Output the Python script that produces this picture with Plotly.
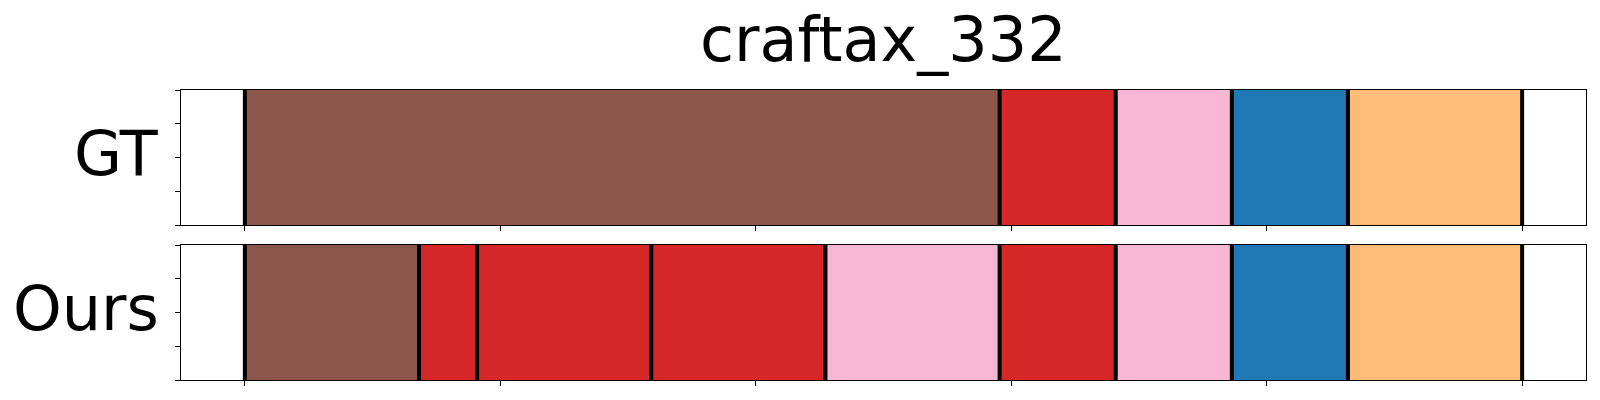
import plotly.graph_objects as go

# ---- data ----
title_text = "craftax_332"
row_labels = ["GT", "Ours"]
total_steps = 22
gt_bounds = [0, 13, 15, 17, 19, 22]
gt_colors = ["#8c564b", "#d62728", "#f7b6d2", "#1f77b4", "#ffbb78"]
ours_bounds = [0, 3, 4, 7, 10, 13, 15, 17, 19, 22]
ours_colors = ["#8c564b", "#d62728", "#d62728", "#d62728", "#f7b6d2",
               "#d62728", "#f7b6d2", "#1f77b4", "#ffbb78"]
x_ticks = [0, 0.2, 0.4, 0.6, 0.8, 1.0]
y_ticks = [0, 0.25, 0.5, 0.75, 1.0]

fig = go.Figure()
rows = [(gt_bounds, gt_colors, "x", "y"), (ours_bounds, ours_colors, "x2", "y2")]
shapes = []
for bounds, colors, xa, ya in rows:
    starts = [b / total_steps for b in bounds[:-1]]
    widths = [(bounds[i + 1] - bounds[i]) / total_steps for i in range(len(bounds) - 1)]
    fig.add_trace(go.Bar(
        x=widths, base=starts, y=[0.5] * len(widths), orientation="h",
        width=1.0, marker=dict(color=colors, line=dict(width=0)),
        xaxis=xa, yaxis=ya, showlegend=False, hoverinfo="skip"))
    for b in bounds:
        shapes.append(dict(type="line", xref=xa, yref=ya + " domain",
                           x0=b / total_steps, x1=b / total_steps, y0=0, y1=1,
                           line=dict(color="black", width=4), layer="above"))

ax_common = dict(showline=True, mirror=True, linecolor="black", linewidth=1,
                 ticks="outside", ticklen=5, tickwidth=1, tickcolor="black",
                 showticklabels=False, showgrid=False, zeroline=False)
fs = 62
fig.update_layout(
    width=1600, height=400,
    margin=dict(l=181, r=14, t=90, b=20),
    paper_bgcolor="white", plot_bgcolor="white",
    barmode="overlay", bargap=0,
    font=dict(family="DejaVu Sans", color="black"),
    xaxis=dict(domain=[0, 1], range=[-0.05, 1.05], tickvals=x_ticks, anchor="y", **ax_common),
    yaxis=dict(domain=[0.5345, 1], range=[0, 1], tickvals=y_ticks, anchor="x", **ax_common),
    xaxis2=dict(domain=[0, 1], range=[-0.05, 1.05], tickvals=x_ticks, anchor="y2", **ax_common),
    yaxis2=dict(domain=[0, 0.4655], range=[0, 1], tickvals=y_ticks, anchor="x2", **ax_common),
    shapes=shapes,
    annotations=[
        dict(text=title_text, xref="paper", yref="paper", x=0.5, y=1, yshift=12,
             xanchor="center", yanchor="bottom", showarrow=False,
             font=dict(size=fs, family="DejaVu Sans", color="black")),
        dict(text=row_labels[0], xref="paper", yref="y domain", x=0, y=0.5,
             xshift=-20, yshift=4,
             xanchor="right", yanchor="middle", showarrow=False,
             font=dict(size=fs, family="DejaVu Sans", color="black")),
        dict(text=row_labels[1], xref="paper", yref="y2 domain", x=0, y=0.5,
             xshift=-20, yshift=4,
             xanchor="right", yanchor="middle", showarrow=False,
             font=dict(size=fs, family="DejaVu Sans", color="black")),
    ],
)
fig.write_html("out.html", config={"displayModeBar": False},
               post_script="document.body.style.margin='0';")
